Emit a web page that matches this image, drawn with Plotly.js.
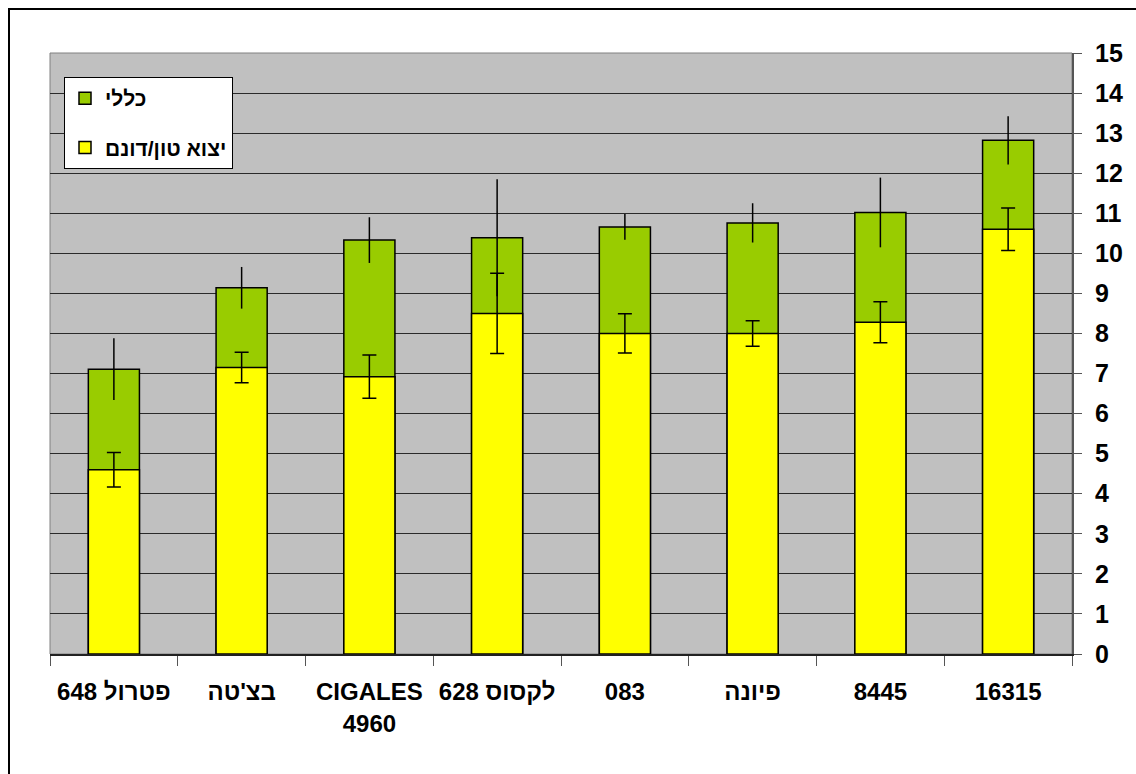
<!DOCTYPE html>
<html><head><meta charset="utf-8">
<script src="https://cdn.plot.ly/plotly-3.0.1.min.js"></script>
<style>
body{margin:0;overflow:hidden;background:#fff}
#frame{position:absolute;left:8px;top:8px;width:2000px;height:2000px;border-left:2px solid #000;border-top:2px solid #000;pointer-events:none}
</style>
</head><body>
<div id="chart" style="position:absolute;left:0;top:0;width:1136px;height:774px"></div>
<div id="frame"></div>
<script>
const categories = ['\u202Bפטרול 648\u202C', "בצ'טה", 'CIGALES<br>4960', '\u202Bלקסוס 628\u202C', '083', 'פיונה', '8445', '16315'];
const totalValues  = [7.11, 9.14, 10.33, 10.39, 10.66, 10.76, 11.02, 12.82];
const totalErrors  = [0.77, 0.52, 0.57, 1.46, 0.32, 0.49, 0.87, 0.60];
const exportValues = [4.60, 7.15, 6.92, 8.50, 8.00, 8.00, 8.28, 10.60];
const exportErrors = [0.43, 0.38, 0.54, 1.00, 0.49, 0.32, 0.51, 0.53];
const seriesNames  = ['כללי', 'יצוא טון/דונם'];
const yTicks = [0,1,2,3,4,5,6,7,8,9,10,11,12,13,14,15];

const FONT = '"Liberation Sans Narrow", "Arial Narrow", "Liberation Sans", Arial, sans-serif';

const traces = [
  {
    type: 'bar', x: categories, y: totalValues, name: seriesNames[0], legendgroup: 'a',
    width: 0.4,
    marker: {color: '#99CC00', line: {color: '#000', width: 1.5}},
    error_y: {type: 'data', array: totalErrors, visible: true, color: '#000', thickness: 1.5, width: 0}
  },
  {
    type: 'bar', x: categories, y: exportValues, name: seriesNames[1], legendgroup: 'b',
    width: 0.4,
    marker: {color: '#FFFF00', line: {color: '#000', width: 1.5}},
    error_y: {type: 'data', array: exportErrors, visible: true, color: '#000', thickness: 1.5, width: 7}
  }
];

const layout = {
  width: 1136, height: 774,
  margin: {l: 50, r: 64, t: 53, b: 120},
  paper_bgcolor: '#fff',
  plot_bgcolor: '#C0C0C0',
  barmode: 'overlay',
  font: {family: FONT, size: 24, color: '#000', weight: 'bold'},
  showlegend: true,
  legend: {
    x: 0.0137, y: 0.96, xanchor: 'left', yanchor: 'top',
    bgcolor: '#fff', bordercolor: '#000', borderwidth: 1,
    font: {family: FONT, size: 21, color: '#000', weight: 'bold'},
    traceorder: 'grouped', tracegroupgap: 19
  },
  xaxis: {
    type: 'category', tickangle: 0, automargin: false,
    tickson: 'boundaries', ticks: 'outside', ticklen: 10, tickcolor: '#555', tickwidth: 1,
    showline: true, linecolor: '#222', linewidth: 1.5,
    showgrid: false, zeroline: false,
    tickfont: {family: FONT, size: 24, color: '#000', weight: 'bold'},
    ticklabelstandoff: 16
  },
  yaxis: {
    side: 'right', range: [0, 15], tickvals: yTicks, automargin: false,
    ticks: 'outside', ticklen: 8, tickcolor: '#555', tickwidth: 1,
    showline: true, linecolor: '#555', linewidth: 2,
    showgrid: true, gridcolor: '#2a2a2a', gridwidth: 1,
    zeroline: false,
    tickfont: {family: FONT, size: 25, color: '#000', weight: 'bold'},
    ticklabelstandoff: 8
  },
  shapes: [
    {type: 'rect', xref: 'paper', yref: 'paper', x0: 0, x1: 1, y0: 0, y1: 1,
     line: {color: '#808080', width: 1}, fillcolor: 'rgba(0,0,0,0)', layer: 'below'}
  ]
};

Plotly.newPlot('chart', traces, layout, {displayModeBar: false, staticPlot: true});
</script>
</body></html>
